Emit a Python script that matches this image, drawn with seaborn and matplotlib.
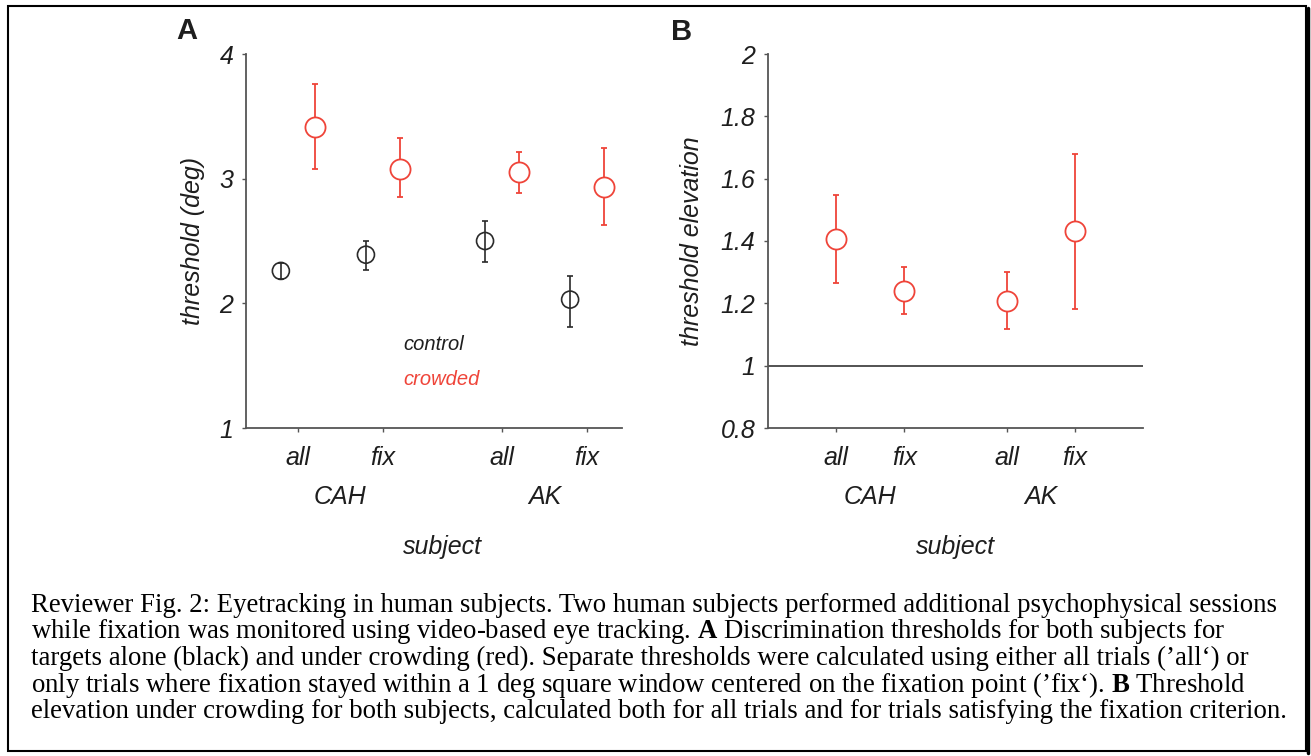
import numpy as np
import pandas as pd
import seaborn as sns
import matplotlib.pyplot as plt
from matplotlib.patches import Rectangle
from matplotlib.lines import Line2D

# values
conditions = ['all', 'fix', 'all', 'fix']
subjects = ['CAH', 'AK']

control_mean = [2.26, 2.39, 2.50, 2.03]
control_lo = [2.195, 2.27, 2.33, 1.81]
control_hi = [2.325, 2.50, 2.66, 2.22]

crowded_mean = [3.415, 3.08, 3.05, 2.93]
crowded_lo = [3.08, 2.85, 2.885, 2.63]
crowded_hi = [3.76, 3.33, 3.21, 3.25]

elev_mean = [1.406, 1.24, 1.208, 1.432]
elev_lo = [1.265, 1.166, 1.118, 1.182]
elev_hi = [1.548, 1.317, 1.30, 1.679]

caption_lines = [
    "Reviewer Fig. 2: Eyetracking in human subjects. Two human subjects performed additional psychophysical sessions",
    "while fixation was monitored using video-based eye tracking. $\\mathbf{A}$ Discrimination thresholds for both subjects for",
    "targets alone (black) and under crowding (red). Separate thresholds were calculated using either all trials (\u2019all\u2018) or",
    "only trials where fixation stayed within a 1 deg square window centered on the fixation point (\u2019fix\u2018). $\\mathbf{B}$ Threshold",
    "elevation under crowding for both subjects, calculated both for all trials and for trials satisfying the fixation criterion.",
]

RED = '#ef4439'
DARK = '#2a2a2a'
SPINE = '#555555'

sns.set_style('ticks')
plt.rcParams['font.family'] = ['Liberation Sans', 'DejaVu Sans']
plt.rcParams['mathtext.fontset'] = 'custom'
plt.rcParams['mathtext.bf'] = 'Liberation Serif:bold'

fig = plt.figure(figsize=(13.11, 7.56), dpi=100)

# x layout for the two panels
xpos_a = np.array([1, 2, 3.4, 4.4])
xpos_b = np.array([1, 2, 3.5, 4.5])

df_a = pd.DataFrame({
    'x': xpos_a,
    'control': control_mean,
    'crowded': crowded_mean,
})
df_b = pd.DataFrame({'x': xpos_b, 'elevation': elev_mean})


def style_axis(ax, xpos, ylim, yticks):
    sns.despine(ax=ax)
    for s in ['left', 'bottom']:
        ax.spines[s].set_color(SPINE)
        ax.spines[s].set_linewidth(1.3)
    ax.set_ylim(*ylim)
    ax.set_yticks(yticks)
    ax.set_yticklabels(['%g' % t for t in yticks], fontstyle='italic', fontsize=18, color='#1e1e1e')
    ax.set_xticks(xpos)
    ax.set_xticklabels(conditions, fontstyle='italic', fontsize=18, color='#1e1e1e')
    ax.tick_params(axis='y', direction='out', length=3, width=1, color=SPINE, pad=6)
    ax.tick_params(axis='x', direction='out', length=3, width=1, color=SPINE, pad=10)
    ax.set_xlabel('')
    ax.set_ylabel('')
    # subject names under each pair
    tr = ax.get_xaxis_transform()
    for i, name in enumerate(subjects):
        mid = (xpos[2 * i] + xpos[2 * i + 1]) / 2
        ax.text(mid, -0.184, name, transform=tr, ha='center', va='center',
                fontsize=18, fontstyle='italic', color='#1e1e1e')
    ax.text((xpos[0] + xpos[-1]) / 2, -0.318, 'subject', transform=tr, ha='center',
            va='center', fontsize=18, fontstyle='italic', color='#1e1e1e')


# Panel A
ax1 = fig.add_axes([246 / 1311, 1 - 428 / 756, 376 / 1311, 374 / 756])
off = 0.2
ax1.errorbar(df_a['x'] - off, df_a['control'],
             yerr=[np.subtract(control_mean, control_lo), np.subtract(control_hi, control_mean)],
             fmt='none', ecolor=DARK, elinewidth=1.2, capsize=2.5, capthick=1.2)
ax1.errorbar(df_a['x'] + off, df_a['crowded'],
             yerr=[np.subtract(crowded_mean, crowded_lo), np.subtract(crowded_hi, crowded_mean)],
             fmt='none', ecolor=RED, elinewidth=1.3, capsize=2, capthick=1.3)
sns.scatterplot(x=df_a['x'] - off, y=df_a['control'], ax=ax1, marker='o', s=150,
                facecolor='none', edgecolor=DARK, linewidth=1.2, zorder=3)
sns.scatterplot(x=df_a['x'] + off, y=df_a['crowded'], ax=ax1, marker='o', s=210,
                facecolor='white', edgecolor=RED, linewidth=1.3, zorder=3)
ax1.set_xlim(0.39, 4.81)
style_axis(ax1, xpos_a, (1, 4), [1, 2, 3, 4])
ax1.text(-0.141, 0.5, 'threshold (deg)', transform=ax1.transAxes, rotation=90,
         ha='center', va='center', fontsize=18, fontstyle='italic', color='#1e1e1e')
ax1.text(0.418, 0.222, 'control', transform=ax1.transAxes, ha='left', va='center',
         fontsize=14.5, fontstyle='italic', color='#1e1e1e')
ax1.text(0.418, 0.131, 'crowded', transform=ax1.transAxes, ha='left', va='center',
         fontsize=14.5, fontstyle='italic', color=RED)

# Panel B
ax2 = fig.add_axes([768 / 1311, 1 - 428 / 756, 375 / 1311, 374 / 756])
ax2.axhline(1, color='#444444', lw=1.3, zorder=1)
ax2.errorbar(df_b['x'], df_b['elevation'],
             yerr=[np.subtract(elev_mean, elev_lo), np.subtract(elev_hi, elev_mean)],
             fmt='none', ecolor=RED, elinewidth=1.3, capsize=2, capthick=1.3)
sns.scatterplot(data=df_b, x='x', y='elevation', ax=ax2, marker='o', s=210,
                facecolor='white', edgecolor=RED, linewidth=1.3, zorder=3)
ax2.set_xlim(0, 5.5)
style_axis(ax2, xpos_b, (0.8, 2), [0.8, 1, 1.2, 1.4, 1.6, 1.8, 2])
ax2.text(-0.203, 0.5, 'threshold elevation', transform=ax2.transAxes, rotation=90,
         ha='center', va='center', fontsize=18, fontstyle='italic', color='#1e1e1e')

# panel letters
fig.text(187 / 1311, 1 - 31 / 756, 'A', fontsize=21, fontweight='bold', ha='center', va='center', color='#1e1e1e')
fig.text(682 / 1311, 1 - 32 / 756, 'B', fontsize=21, fontweight='bold', ha='center', va='center', color='#1e1e1e')

# caption
for i, line in enumerate(caption_lines):
    fig.text(31 / 1311, 1 - (605 + i * 26.7) / 756, line, fontsize=19.3,
             family='Liberation Serif', ha='left', va='center', color='black')

# outer frame with shadow
fig.add_artist(Rectangle((8 / 1311, 1 - 751 / 756), 1298 / 1311, 745 / 756,
                         transform=fig.transFigure, fill=False, lw=1.5, ec='black'))
fig.add_artist(Line2D([1307.5 / 1311, 1307.5 / 1311], [1 - 753 / 756, 1 - 8 / 756],
                      transform=fig.transFigure, lw=2.5, color='black'))

fig.savefig('out.png', dpi=100)
